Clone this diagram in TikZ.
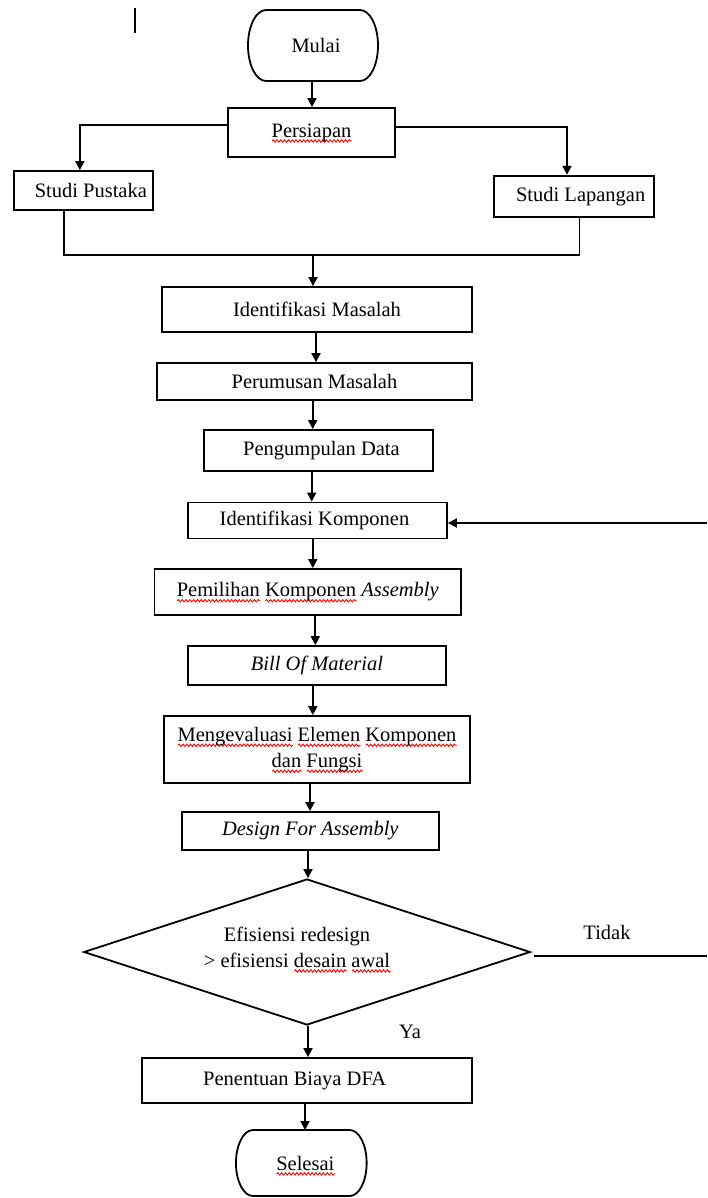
\documentclass[tikz,border=0pt]{standalone}
\usepackage{fontspec}
\setmainfont{Liberation Serif}
\usetikzlibrary{arrows.meta,shapes.geometric,decorations.pathmorphing}
\newlength\spellw
\newcommand\spell[1]{\settowidth\spellw{#1}\rlap{\raisebox{-5.5pt}[0pt][0pt]{\tikz\draw[red,line width=0.9pt,decorate,decoration={snake,amplitude=1.2pt,segment length=3.8pt}] (0pt,0pt) -- (\spellw,0pt);}}#1}
\newcommand\flow[3]{\draw[arr] (#3,0 |- #1.south) -- (#3,0 |- #2.north);}
\newcommand\term[3]{\draw[ln] ([xshift=#2pt]#1.north west) -- ([xshift=-#2pt]#1.north east) arc[start angle=-90,end angle=90,x radius=#2,y radius=#3] -- ([xshift=#2pt]#1.south west) arc[start angle=90,end angle=270,x radius=#2,y radius=#3] -- cycle;}
\begin{document}
\begin{tikzpicture}[x=1pt,y=-1pt,
  every node/.style={font=\fontsize{20.5}{26}\selectfont},
  ln/.style={line width=1.8pt},
  arr/.style={line width=1.8pt,-{Triangle[length=9pt,width=9pt]}},
  box/.style={draw,rectangle,line width=1.8pt,inner sep=0pt,align=center},
  termnode/.style={rectangle,inner sep=0pt,outer sep=0pt}]
\useasboundingbox (0,0) rectangle (707,1198);
% text cursor mark
\draw[line width=1.5pt] (135,8) -- (135,33);
% nodes
\node[termnode,minimum width=130pt,minimum height=71pt] (mulai) at (313,45.5) {\hspace*{6pt}Mulai};
\node[box,minimum width=167pt,minimum height=49pt] (ps) at (311.5,132.5) {\spell{Persiapan}};
\node[box,minimum width=139pt,minimum height=39pt] (sp) at (83.85,190.5) {\hspace*{14pt}Studi Pustaka};
\node[box,minimum width=160pt,minimum height=41pt] (sl) at (573.7,196.2) {\hspace*{14pt}Studi Lapangan};
\node[box,minimum width=310pt,minimum height=45pt] (im) at (317,309.5) {Identifikasi Masalah};
\node[box,minimum width=315pt,minimum height=37pt] (pm) at (314.5,381.5) {Perumusan Masalah};
\node[box,minimum width=229pt,minimum height=41pt] (pd) at (318.5,450.5) {\hspace*{6pt}Pengumpulan Data};
\node[box,minimum width=259pt,minimum height=36pt] (ik) at (317.5,520.5) {Identifikasi Komponen\hspace*{6pt}};
\node[box,minimum width=306.5pt,minimum height=46pt] (pk) at (307.75,592) {\spell{Pemilihan} \spell{Komponen} \textit{Assembly}};
\node[box,minimum width=258pt,minimum height=39pt] (bom) at (317,665.5) {\textit{Bill Of Material}};
\node[box,minimum width=306pt,minimum height=67pt] (me) at (317,749.5) {\spell{Mengevaluasi} \spell{Elemen} \spell{Komponen}\\\spell{dan} \spell{Fungsi}};
\node[box,minimum width=257.4pt,minimum height=38pt] (dfa) at (310.3,831) {\textit{Design For Assembly}};
\node[draw,diamond,line width=1.8pt,inner sep=0pt,minimum width=446.5pt,minimum height=146pt] (dec) at (307,952) {};
\node[align=center] (dect) at (297,947) {Efisiensi redesign\\> efisiensi \spell{desain} \spell{awal}};
\node[box,minimum width=330pt,minimum height=45pt] (pen) at (306.7,1080.5) {Penentuan Biaya DFA\hspace*{24pt}};
\node[termnode,minimum width=130.7pt,minimum height=66pt] (sel) at (301.3,1163) {\hspace*{8pt}\spell{Selesai}};
\node (tidak) at (607,932) {Tidak};
\node (ya) at (410,1032) {Ya};
% terminal outlines
\term{mulai}{18}{35.5}
\term{sel}{17}{33}
% coordinates
\coordinate (jn) at (313,255);
\coordinate (spb) at ([xshift=-20pt]sp.south);
\coordinate (slb) at ([xshift=5.7pt]sl.south);
\coordinate (rt) at (707,956);
\coordinate (fb) at (707,523);
% connectors
\flow{mulai}{ps}{312}
\draw[arr] ([yshift=7.5pt]ps.west) -| ([xshift=-4pt]sp.north);
\draw[arr] ([yshift=5.5pt]ps.east) -| ([xshift=-6.7pt]sl.north);
\draw[ln] (spb) |- (slb |- jn) -- (slb);
\draw[arr] (jn) -- (jn |- im.north);
\flow{im}{pm}{316}
\flow{pm}{pd}{312.7}
\flow{pd}{ik}{311.7}
\flow{ik}{pk}{312.8}
\flow{pk}{bom}{315.3}
\flow{bom}{me}{312.8}
\flow{me}{dfa}{310}
\flow{dfa}{dec}{308}
\flow{dec}{pen}{308}
\flow{pen}{sel}{305}
\draw[ln] ([xshift=3pt,yshift=-4pt]dec.east) -- (rt);
\draw[arr] (fb) -- (ik.east |- fb);
\end{tikzpicture}
\end{document}
